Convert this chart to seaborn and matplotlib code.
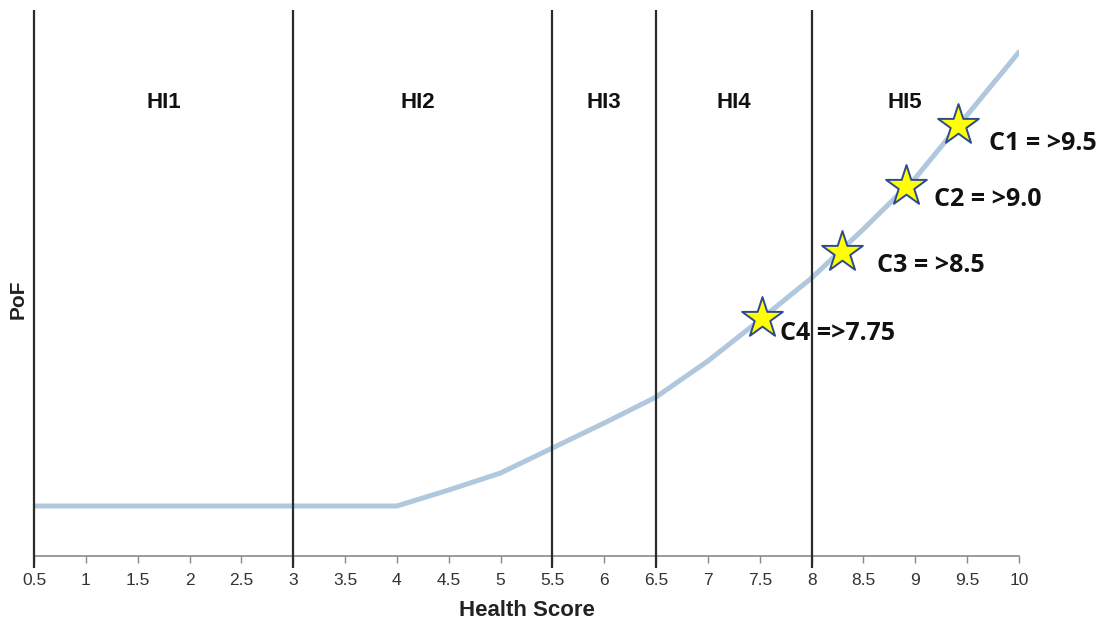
import numpy as np
import pandas as pd
import matplotlib
matplotlib.use("Agg")
import matplotlib.pyplot as plt
import seaborn as sns

# curve values (PoF in relative units)
health_score = [0.5, 4, 4.5, 5, 5.5, 6, 6.5, 7, 7.5, 8, 8.5, 9, 9.5, 10]
pof = [50, 50, 66, 83, 108, 133, 159, 195, 236, 278, 327, 378, 441, 504]

band_edges = [0.5, 3, 5.5, 6.5, 8]
band_labels = ["HI1", "HI2", "HI3", "HI4", "HI5"]
band_label_x = [1.75, 4.2, 6.0, 7.25, 8.9]

crit_x = [9.41, 8.91, 8.29, 7.52]
crit_y = [431, 370, 304, 238]
crit_labels = ["C1 = >9.5", "C2 = >9.0", "C3 = >8.5", "C4 =>7.75"]

sns.set_style("white")
plt.rcParams['font.family'] = ['Liberation Sans', 'DejaVu Sans']

fig = plt.figure(figsize=(11.08, 6.25), dpi=100)
ax = fig.add_axes([0.0307, 0.1104, 0.8890, 0.8736])

df = pd.DataFrame({'score': health_score, 'pof': pof})
sns.lineplot(data=df, x='score', y='pof', ax=ax, color='#b0c8de', linewidth=3.6)

ax.vlines(band_edges, -12, 546, colors='#2b2b2b', linewidth=1.6, clip_on=False, zorder=3)

for lx, lab in zip(band_label_x, band_labels):
    ax.text(lx, 454, lab, ha='center', va='center', fontsize=16, fontweight='bold', color='#111111')

sns.scatterplot(x=crit_x, y=crit_y, ax=ax, marker='*', s=950, color='#ffff00',
                edgecolor='#2e4a8e', linewidth=1.4, zorder=5)

offsets = [(0.3, -18), (0.27, -13), (0.34, -13), (0.17, -15)]
for cx, cy, lab, (dx, dy) in zip(crit_x, crit_y, crit_labels, offsets):
    ax.text(cx + dx, cy + dy, lab, ha='left', va='center', fontsize=18,
            fontweight='bold', color='#111111', family=['Open Sans', 'DejaVu Sans'])

ax.set_xlim(0.5, 10)
ax.set_ylim(0, 546)
ticks = np.arange(0.5, 10.01, 0.5)
ax.set_xticks(ticks)
ax.set_xticklabels([f"{t:g}" for t in ticks], fontsize=12.5, color='#333333')
ax.set_yticks([])
ax.tick_params(axis='x', length=5, width=1, color='#888888', direction='out', bottom=True, pad=7)

for s in ['top', 'right', 'left']:
    ax.spines[s].set_visible(False)
ax.spines['bottom'].set_color('#8a8a8a')
ax.spines['bottom'].set_linewidth(1.2)

ax.set_xlabel("Health Score", fontsize=16, fontweight='bold', color='#222222', labelpad=9)
ax.set_ylabel("PoF", fontsize=15, fontweight='bold', color='#222222')
ax.yaxis.set_label_coords(-0.006, 0.47)

fig.savefig("out.png", dpi=100)
